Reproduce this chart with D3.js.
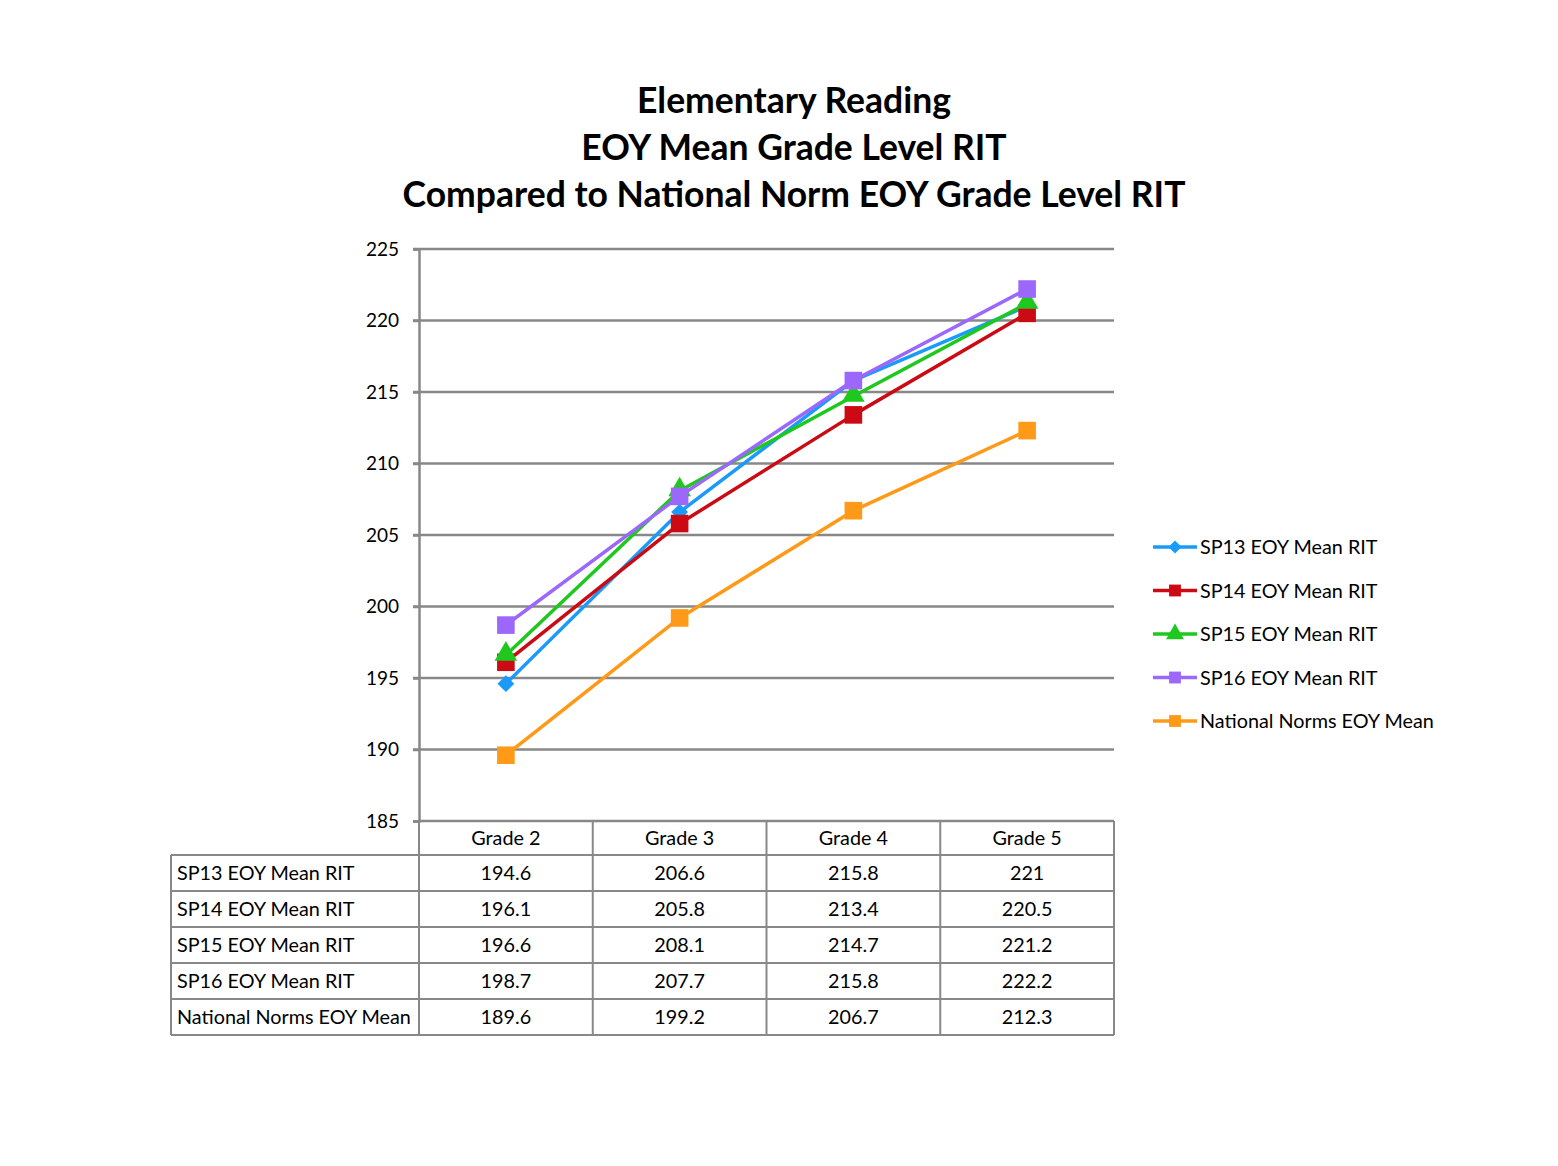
<!DOCTYPE html>
<html><head><meta charset="utf-8">
<script src="https://cdn.jsdelivr.net/npm/d3@7"></script>
<style>body{margin:0;background:#fff;} svg{display:block;}</style>
</head><body>
<svg id="c" width="1558" height="1166"></svg>
<script>
const categories = ["Grade 2","Grade 3","Grade 4","Grade 5"];
const seriesNames = ["SP13 EOY Mean RIT","SP14 EOY Mean RIT","SP15 EOY Mean RIT","SP16 EOY Mean RIT","National Norms EOY Mean"];
const sp13 = [194.6,206.6,215.8,221];
const sp14 = [196.1,205.8,213.4,220.5];
const sp15 = [196.6,208.1,214.7,221.2];
const sp16 = [198.7,207.7,215.8,222.2];
const national = [189.6,199.2,206.7,212.3];
const yTicks = [185,190,195,200,205,210,215,220,225];
const titleLines = ["Elementary Reading","EOY Mean Grade Level RIT","Compared to National Norm EOY Grade Level RIT"];

const values = [sp13,sp14,sp15,sp16,national];
const colors = ["#1a9bfc","#cc0a14","#1ec81e","#9b68fb","#ff9a18"];
const shapes = ["diamond","square","triangle","square","square"];

const svg = d3.select("#c");
const font = "Lato, 'Open Sans', sans-serif";
const L=419, R=1114, T=249, B=821;
const x = d3.scaleBand().domain(categories).range([L,R]);
const y = d3.scaleLinear().domain([185,225]).range([B,T]);

// title
svg.append("g").selectAll("text").data(titleLines).join("text")
  .attr("x",794).attr("y",(d,i)=>113+i*47).attr("text-anchor","middle")
  .attr("font-family",font).attr("font-weight","bold").attr("font-size",35.5).attr("fill","#000")
  .text(d=>d);

// grid
const gc="#888";
svg.append("g").selectAll("line").data(yTicks.filter(t=>t>185)).join("line")
  .attr("x1",L-6).attr("x2",R).attr("y1",d=>y(d)).attr("y2",d=>y(d))
  .attr("stroke",gc).attr("stroke-width",2.5);
// y axis
const yAxis = d3.axisLeft(y).tickValues(yTicks).tickSize(6).tickPadding(14).tickFormat(d3.format("d"));
const ga = svg.append("g").attr("transform",`translate(${L},0)`).call(yAxis);
ga.select(".domain").attr("stroke",gc).attr("stroke-width",2.5);
ga.selectAll(".tick line").attr("stroke",gc).attr("stroke-width",2.5);
ga.selectAll(".tick text").attr("font-family",font).attr("font-size",19).attr("fill","#000");

// lines
const line = d3.line().x((d,i)=>x(categories[i])+x.bandwidth()/2).y(d=>y(d));
values.forEach((vals,si)=>{
  svg.append("path").datum(vals).attr("d",line).attr("fill","none")
    .attr("stroke",colors[si]).attr("stroke-width",3.5).attr("stroke-linejoin","round");
});
function sym(shape){
  if(shape==="diamond") return d3.symbol().type(d3.symbolDiamond2).size(180)();
  if(shape==="triangle") return d3.symbol().type(d3.symbolTriangle).size(220)();
  return d3.symbol().type(d3.symbolSquare).size(310)();
}
values.forEach((vals,si)=>{
  svg.append("g").selectAll("path").data(vals).join("path")
    .attr("d",sym(shapes[si]))
    .attr("transform",(d,i)=>`translate(${x(categories[i])+x.bandwidth()/2},${y(d)+(shapes[si]==="triangle"?-1:0)})`)
    .attr("fill",colors[si]);
});

// legend
const lg = svg.append("g");
seriesNames.forEach((n,i)=>{
  const ly = 547+i*43.5;
  lg.append("line").attr("x1",1153).attr("x2",1197).attr("y1",ly).attr("y2",ly).attr("stroke",colors[i]).attr("stroke-width",3.5);
  lg.append("path").attr("d",d3.symbol().type(shapes[i]==="diamond"?d3.symbolDiamond2:shapes[i]==="triangle"?d3.symbolTriangle:d3.symbolSquare).size(shapes[i]==="diamond"?110:140)())
    .attr("transform",`translate(1175,${ly})`).attr("fill",colors[i]);
  lg.append("text").attr("x",1200).attr("y",ly+7).attr("font-family",font).attr("font-size",19.8).attr("fill","#000").text(n);
});

// data table
const tc="#888";
const rowH=36, headTop=821, headBot=855, tLeft=171;
const tb = svg.append("g");
const bounds = categories.map(c=>x(c)).concat([R]);
bounds.forEach(bx=>{
  tb.append("line").attr("x1",bx).attr("x2",bx).attr("y1",headTop).attr("y2",headBot+rowH*5).attr("stroke",tc).attr("stroke-width",2);
});
tb.append("line").attr("x1",tLeft).attr("x2",tLeft).attr("y1",headBot).attr("y2",headBot+rowH*5).attr("stroke",tc).attr("stroke-width",2);
tb.append("line").attr("x1",L).attr("x2",R).attr("y1",headTop).attr("y2",headTop).attr("stroke",tc).attr("stroke-width",2.5);
for(let r=0;r<=5;r++){
  tb.append("line").attr("x1",tLeft).attr("x2",R).attr("y1",headBot+r*rowH).attr("y2",headBot+r*rowH).attr("stroke",tc).attr("stroke-width",2);
}
categories.forEach(c=>{
  tb.append("text").attr("x",x(c)+x.bandwidth()/2).attr("y",headTop+24).attr("text-anchor","middle")
    .attr("font-family",font).attr("font-size",19.8).text(c);
});
seriesNames.forEach((n,r)=>{
  const cy = headBot+r*rowH+25;
  tb.append("text").attr("x",tLeft+6).attr("y",cy).attr("font-family",font).attr("font-size",19.8).text(n);
  values[r].forEach((v,i)=>{
    tb.append("text").attr("x",x(categories[i])+x.bandwidth()/2).attr("y",cy).attr("text-anchor","middle")
      .attr("font-family",font).attr("font-size",19.8).text(String(v));
  });
});
</script>
</body></html>
